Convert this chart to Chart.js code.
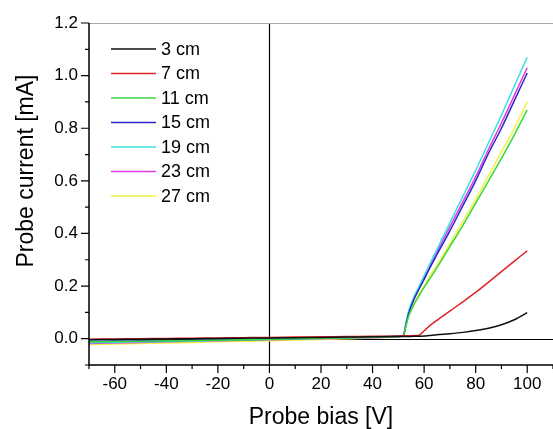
<!DOCTYPE html>
<html lang="en">
<head>
  <meta charset="UTF-8" />
  <title>Probe current vs probe bias</title>
  <style>
    body {
      margin: 0;
      background: #ffffff;
    }
    #chartBox {
      position: relative;
      width: 553px;
      height: 429px;
    }
  </style>
</head>
<body>
  <div id="chartBox"><canvas id="ivChart"></canvas></div>

  <script src="https://cdn.jsdelivr.net/npm/chart.js"></script>
  <script>
    // probe bias [V], shared by every curve
    const biasV = [-70, -60, -50, -40, -30, -20, -10, 0, 10, 20, 30, 40, 50,
                   52, 53, 54, 56, 58, 60, 62, 65, 70, 75, 80, 85, 90, 95, 100];

    // probe current [mA], one list per distance
    const cur3cm  = [-0.004, -0.003, -0.002, -0.001, 0, 0.001, 0.002, 0.003, 0.004, 0.005, 0.006, 0.007, 0.008,
                     0.008, 0.008, 0.008, 0.009, 0.009, 0.010, 0.012, 0.015, 0.019, 0.024, 0.031, 0.040, 0.053, 0.072, 0.099];
    const cur7cm  = [-0.002, -0.001, 0, 0.001, 0.002, 0.003, 0.004, 0.005, 0.006, 0.007, 0.008, 0.009, 0.010,
                     0.011, 0.011, 0.011, 0.012, 0.013, 0.030, 0.048, 0.070, 0.105, 0.140, 0.176, 0.215, 0.255, 0.295, 0.334];
    const cur11cm = [-0.012, -0.011, -0.010, -0.008, -0.007, -0.005, -0.004, -0.002, 0, 0.002, 0.004, 0.006, 0.008,
                     0.012, 0.050, 0.085, 0.128, 0.163, 0.195, 0.225, 0.270, 0.350, 0.430, 0.515, 0.600, 0.685, 0.775, 0.870];
    const cur15cm = [-0.010, -0.009, -0.008, -0.007, -0.006, -0.004, -0.003, -0.001, 0.001, 0.003, 0.005, 0.007, 0.009,
                     0.013, 0.055, 0.095, 0.148, 0.188, 0.225, 0.265, 0.320, 0.410, 0.505, 0.600, 0.705, 0.800, 0.905, 1.010];
    const cur19cm = [-0.015, -0.014, -0.012, -0.011, -0.009, -0.007, -0.005, -0.003, -0.001, 0.001, 0.003, 0.005, 0.008,
                     0.014, 0.062, 0.105, 0.158, 0.198, 0.240, 0.280, 0.340, 0.440, 0.540, 0.640, 0.745, 0.850, 0.960, 1.070];
    const cur23cm = [-0.018, -0.016, -0.014, -0.012, -0.010, -0.008, -0.006, -0.004, -0.002, 0, 0.002, 0.004, 0.007,
                     0.013, 0.058, 0.100, 0.153, 0.193, 0.230, 0.270, 0.330, 0.425, 0.520, 0.615, 0.720, 0.820, 0.925, 1.030];
    const cur27cm = [-0.022, -0.020, -0.018, -0.016, -0.014, -0.012, -0.010, -0.008, -0.005, -0.003, 0, 0.003, 0.006,
                     0.012, 0.054, 0.090, 0.133, 0.168, 0.200, 0.235, 0.280, 0.360, 0.445, 0.530, 0.620, 0.710, 0.800, 0.900];

    const seriesLabels = ['3 cm', '7 cm', '11 cm', '15 cm', '19 cm', '23 cm', '27 cm'];
    const seriesValues = [cur3cm, cur7cm, cur11cm, cur15cm, cur19cm, cur23cm, cur27cm];
    const seriesColors = ['#111111', '#e02424', '#3cd43c', '#2c26c8', '#3fe0e0', '#e03ce0', '#f2f23c'];

    const FONT = "'Liberation Sans', Arial, sans-serif";

    const datasets = seriesLabels.map((label, i) => ({
      label: label,
      data: biasV.map((v, k) => ({ x: v, y: seriesValues[i][k] })),
      borderColor: seriesColors[i],
      backgroundColor: seriesColors[i],
      borderWidth: 1.5,
      pointRadius: 0,
      cubicInterpolationMode: 'monotone',
      fill: false
    }));

    // zero lines under the curves
    const zeroLines = {
      id: 'zeroLines',
      beforeDatasetsDraw(chart) {
        const { ctx, chartArea: a, scales: { x, y } } = chart;
        ctx.save();
        ctx.strokeStyle = '#000';
        ctx.lineWidth = 1.2;
        const x0 = Math.round(x.getPixelForValue(0)) + 0.5;
        const y0 = Math.round(y.getPixelForValue(0)) + 0.5;
        ctx.beginPath();
        ctx.moveTo(x0, a.top); ctx.lineTo(x0, a.bottom);
        ctx.moveTo(a.left, y0); ctx.lineTo(a.right, y0);
        ctx.stroke();
        ctx.restore();
      }
    };

    // axes frame, outward ticks, titles and the in-plot legend
    const frameAndLegend = {
      id: 'frameAndLegend',
      afterDraw(chart) {
        const { ctx, chartArea: a, scales: { x, y } } = chart;
        ctx.save();

        ctx.strokeStyle = '#aaaaaa';
        ctx.lineWidth = 1;
        ctx.beginPath();
        ctx.moveTo(a.left, a.top + 0.5); ctx.lineTo(a.right, a.top + 0.5);
        ctx.stroke();

        ctx.strokeStyle = '#000';
        ctx.lineWidth = 1.5;
        ctx.beginPath();
        ctx.moveTo(a.left, a.top); ctx.lineTo(a.left, a.bottom);
        ctx.lineTo(a.right, a.bottom);
        ctx.stroke();

        ctx.lineWidth = 1.2;
        ctx.beginPath();
        x.ticks.forEach(t => {
          const px = x.getPixelForValue(t.value);
          const len = t.value % 20 === 0 ? 8 : 4;
          ctx.moveTo(px, a.bottom); ctx.lineTo(px, a.bottom + len);
        });
        y.ticks.forEach(t => {
          const py = y.getPixelForValue(t.value);
          const len = Math.round(t.value * 10) % 2 === 0 ? 8 : 4;
          ctx.moveTo(a.left, py); ctx.lineTo(a.left - len, py);
        });
        ctx.stroke();

        ctx.fillStyle = '#000';
        ctx.font = '23px ' + FONT;
        ctx.textAlign = 'center';
        ctx.textBaseline = 'alphabetic';
        ctx.fillText('Probe bias [V]', 321, 424);
        ctx.translate(33, 171);
        ctx.rotate(-Math.PI / 2);
        ctx.fillText('Probe current [mA]', 0, 0);
        ctx.setTransform(1, 0, 0, 1, 0, 0);

        ctx.font = '18px ' + FONT;
        ctx.textAlign = 'left';
        ctx.textBaseline = 'middle';
        chart.data.datasets.forEach((ds, i) => {
          const ly = 49 + i * 24.5;
          ctx.strokeStyle = ds.borderColor;
          ctx.lineWidth = 1.5;
          ctx.beginPath();
          ctx.moveTo(111, ly); ctx.lineTo(156, ly);
          ctx.stroke();
          ctx.fillStyle = '#000';
          ctx.fillText(ds.label, 161, ly + 1);
        });
        ctx.restore();
      }
    };

    new Chart(document.getElementById('ivChart').getContext('2d'), {
      type: 'line',
      data: { datasets: datasets },
      options: {
        responsive: true,
        maintainAspectRatio: false,
        animation: false,
        devicePixelRatio: 1,
        layout: { padding: { top: 23, right: 0, left: 0, bottom: 0 } },
        scales: {
          x: {
            type: 'linear',
            min: -70,
            max: 110,
            afterFit(scale) {
              scale.height = 64;
              scale.paddingLeft = 0;
              scale.paddingRight = 0;
            },
            border: { display: false },
            grid: { display: false, drawTicks: false },
            ticks: {
              stepSize: 10,
              padding: 9,
              color: '#000',
              font: { family: FONT, size: 17 },
              maxRotation: 0,
              autoSkip: false,
              callback: v => (v % 20 === 0 && v <= 100) ? String(v) : ''
            }
          },
          y: {
            min: -0.1,
            max: 1.2,
            afterFit(scale) {
              scale.width = 89;
              scale.paddingTop = 0;
              scale.paddingBottom = 0;
            },
            border: { display: false },
            grid: { display: false, drawTicks: false },
            ticks: {
              stepSize: 0.1,
              padding: 11,
              color: '#000',
              font: { family: FONT, size: 17 },
              autoSkip: false,
              callback: v => (Math.round(v * 10) % 2 === 0) ? v.toFixed(1) : ''
            }
          }
        },
        plugins: {
          legend: { display: false },
          tooltip: { enabled: false }
        }
      },
      plugins: [zeroLines, frameAndLegend]
    });
  </script>
</body>
</html>
